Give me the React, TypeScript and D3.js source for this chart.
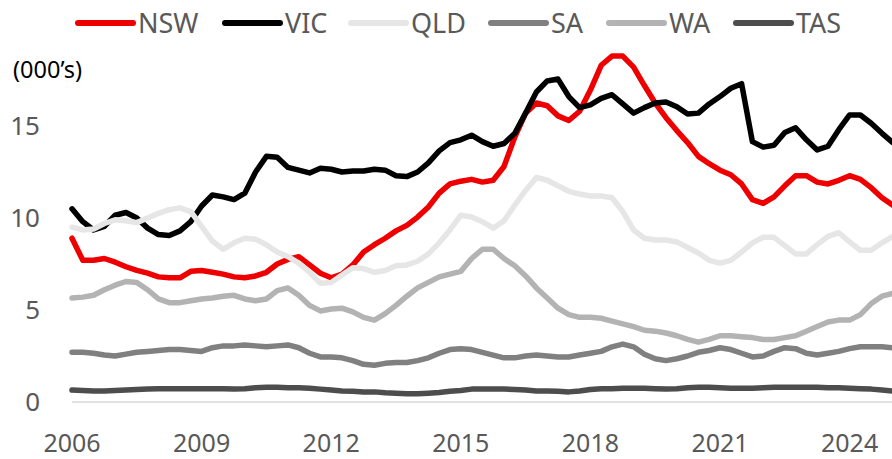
import React from "react";
import * as d3 from "d3";

// quarterly, 2006 Q1 .. 2025 Q1
const startYear = 2006;

const nsw = [
  8.9, 7.7, 7.7, 7.8, 7.6, 7.35, 7.15, 7.0, 6.8, 6.75,
  6.75, 7.1, 7.15, 7.05, 6.95, 6.8, 6.75, 6.85, 7.05, 7.5,
  7.75, 7.9, 7.45, 7.0, 6.75, 6.95, 7.45, 8.15, 8.55, 8.9,
  9.3, 9.6, 10.05, 10.6, 11.35, 11.85, 12.0, 12.1, 11.95, 12.05,
  12.8, 14.4, 15.7, 16.25, 16.1, 15.55, 15.3, 15.8, 16.95, 18.3,
  18.8, 18.8, 18.2, 17.2, 16.25, 15.45, 14.75, 14.1, 13.35, 12.95,
  12.6, 12.35, 11.85, 11.0, 10.8, 11.15, 11.75, 12.3, 12.3, 11.95,
  11.85, 12.05, 12.3, 12.1, 11.65, 11.1, 10.7,
];

const vic = [
  10.5, 9.8, 9.35, 9.55, 10.15, 10.3, 10.0, 9.45, 9.1, 9.05,
  9.3, 9.8, 10.65, 11.25, 11.15, 11.0, 11.35, 12.5, 13.35, 13.3,
  12.75, 12.6, 12.45, 12.7, 12.65, 12.5, 12.55, 12.55, 12.65, 12.6,
  12.3, 12.25, 12.5, 13.0, 13.65, 14.1, 14.25, 14.5, 14.15, 13.9,
  14.05, 14.6, 15.7, 16.85, 17.45, 17.55, 16.6, 16.0, 16.15, 16.5,
  16.7, 16.2, 15.7, 16.0, 16.25, 16.3, 16.05, 15.65, 15.7, 16.2,
  16.6, 17.05, 17.3, 14.15, 13.85, 13.95, 14.65, 14.9, 14.25, 13.7,
  13.9, 14.8, 15.6, 15.6, 15.15, 14.6, 14.1,
];

const qld = [
  9.5, 9.35, 9.4, 9.7, 9.9, 9.85, 9.75, 10.0, 10.25, 10.45,
  10.55, 10.35, 9.55, 8.75, 8.3, 8.65, 8.9, 8.85, 8.55, 8.15,
  7.9, 7.55, 7.05, 6.45, 6.5, 6.9, 7.3, 7.25, 7.05, 7.15,
  7.4, 7.45, 7.65, 8.05, 8.65, 9.35, 10.15, 10.05, 9.8, 9.45,
  9.85, 10.7, 11.5, 12.2, 12.05, 11.75, 11.45, 11.3, 11.2, 11.2,
  11.1, 10.35, 9.35, 8.9, 8.8, 8.8, 8.7, 8.4, 8.1, 7.7,
  7.55, 7.7, 8.15, 8.65, 8.95, 8.95, 8.5, 8.05, 8.05, 8.55,
  9.0, 9.2, 8.7, 8.25, 8.25, 8.65, 9.0,
];

const sa = [
  2.7, 2.7, 2.65, 2.55, 2.5, 2.6, 2.7, 2.75, 2.8, 2.85,
  2.85, 2.8, 2.75, 2.95, 3.05, 3.05, 3.1, 3.05, 3.0, 3.05,
  3.1, 2.95, 2.65, 2.45, 2.45, 2.4, 2.25, 2.05, 2.0, 2.1,
  2.15, 2.15, 2.25, 2.4, 2.65, 2.85, 2.9, 2.85, 2.7, 2.55,
  2.4, 2.4, 2.5, 2.55, 2.5, 2.45, 2.45, 2.55, 2.65, 2.75,
  3.0, 3.15, 3.0, 2.6, 2.35, 2.25, 2.35, 2.5, 2.7, 2.8,
  2.95, 2.85, 2.65, 2.45, 2.5, 2.75, 2.95, 2.9, 2.65, 2.55,
  2.65, 2.75, 2.9, 3.0, 3.0, 3.0, 2.95,
];

const wa = [
  5.65, 5.7, 5.8, 6.1, 6.35, 6.55, 6.5, 6.1, 5.6, 5.4,
  5.4, 5.5, 5.6, 5.65, 5.75, 5.8, 5.6, 5.5, 5.6, 6.05,
  6.2, 5.8, 5.25, 4.95, 5.05, 5.1, 4.9, 4.6, 4.45, 4.8,
  5.25, 5.75, 6.2, 6.5, 6.8, 6.95, 7.1, 7.8, 8.3, 8.3,
  7.8, 7.4, 6.85, 6.2, 5.65, 5.1, 4.75, 4.6, 4.6, 4.55,
  4.4, 4.25, 4.1, 3.9, 3.85, 3.75, 3.6, 3.4, 3.25, 3.4,
  3.6, 3.6, 3.55, 3.5, 3.4, 3.4, 3.5, 3.6, 3.85, 4.1,
  4.35, 4.45, 4.45, 4.75, 5.35, 5.75, 5.9,
];

const tas = [
  0.65, 0.62, 0.6, 0.6, 0.62, 0.65, 0.68, 0.7, 0.72, 0.72,
  0.72, 0.72, 0.72, 0.72, 0.72, 0.7, 0.72, 0.78, 0.8, 0.8,
  0.78, 0.78, 0.75, 0.7, 0.65, 0.6, 0.58, 0.55, 0.55, 0.5,
  0.48, 0.45, 0.45, 0.48, 0.52, 0.58, 0.62, 0.7, 0.7, 0.7,
  0.7, 0.68, 0.65, 0.6, 0.6, 0.58, 0.55, 0.6, 0.68, 0.72,
  0.72, 0.75, 0.75, 0.75, 0.72, 0.7, 0.72, 0.78, 0.8, 0.8,
  0.78, 0.75, 0.75, 0.75, 0.78, 0.8, 0.8, 0.8, 0.8, 0.8,
  0.78, 0.78, 0.75, 0.72, 0.7, 0.65, 0.6,
];

const seriesNames = ["NSW", "VIC", "QLD", "SA", "WA", "TAS"];
const seriesValues = [nsw, vic, qld, sa, wa, tas];
const seriesColors = ["#ee0000", "#000000", "#e6e6e6", "#808080", "#b3b3b3", "#4d4d4d"];

const yTicks = [0, 5, 10, 15];
const xTicks = [2006, 2009, 2012, 2015, 2018, 2021, 2024];
const yLabel = "(000’s)";

const W = 892;
const H = 459;
const font = "'Noto Sans', sans-serif";

// legend item left edges (line sample start)
const legendX = [78, 225, 351, 491, 609, 736];

const App = () => {
  const x = d3.scaleLinear().domain([2006, 2025]).range([72, 892.8]);
  const y = d3.scaleLinear().domain([0, 15]).range([402, 126]);

  const line = d3
    .line<number>()
    .x((_, i) => x(startYear + i / 4))
    .y((d) => y(d));

  return (
    <svg
      width={W}
      height={H}
      style={{ position: "absolute", left: 0, top: 0, background: "#fff" }}
      fontFamily={font}
    >
      {/* legend */}
      {seriesNames.map((name, i) => (
        <g key={name}>
          <line
            x1={legendX[i]}
            x2={legendX[i] + 55}
            y1={23}
            y2={23}
            stroke={seriesColors[i]}
            strokeWidth={6}
            strokeLinecap="round"
          />
          <text x={legendX[i] + 60} y={23} dy="0.36em" fontSize={27} fill="#595959">
            {name}
          </text>
        </g>
      ))}

      <text x={13} y={78} fontSize={23.5} fill="#000">
        {yLabel}
      </text>

      {/* y tick labels */}
      {yTicks.map((t) => (
        <text key={t} x={40} y={y(t)} dy="0.36em" textAnchor="end" fontSize={26} fill="#595959">
          {t}
        </text>
      ))}

      {/* x axis */}
      <line x1={72} x2={892} y1={y(0)} y2={y(0)} stroke="#d9d9d9" strokeWidth={1.5} />
      {xTicks.map((t) => (
        <text key={t} x={x(t)} y={452} textAnchor="middle" fontSize={25} fill="#595959">
          {t}
        </text>
      ))}

      {/* series */}
      {seriesValues.map((vals, i) => (
        <path
          key={seriesNames[i]}
          d={line(vals) || ""}
          fill="none"
          stroke={seriesColors[i]}
          strokeWidth={5.5}
          strokeLinejoin="round"
          strokeLinecap="round"
        />
      ))}
    </svg>
  );
};

export default App;
